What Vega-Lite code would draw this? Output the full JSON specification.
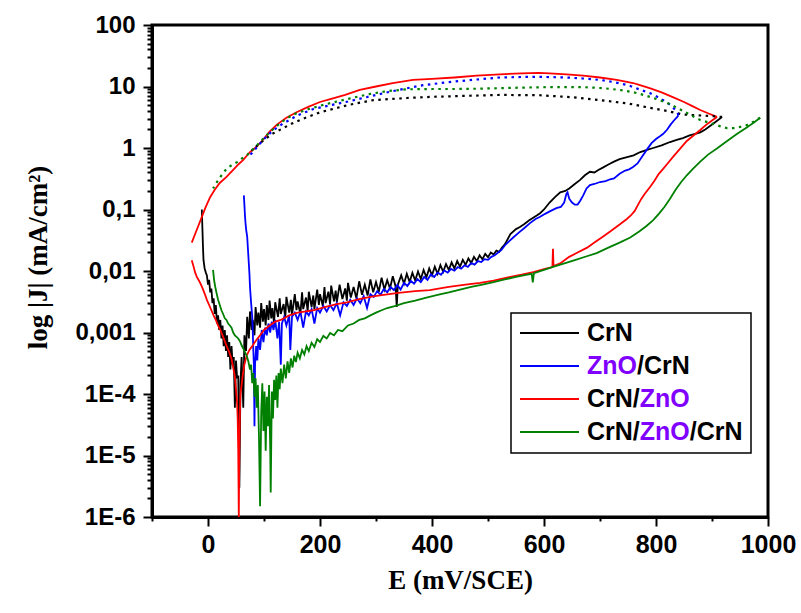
{
  "$schema": "https://vega.github.io/schema/vega-lite/v6.json",
  "width": 616,
  "height": 492,
  "autosize": {"type": "none"},
  "padding": {"left": 152, "top": 25, "right": 33, "bottom": 96},
  "background": "white",
  "config": {
    "view": {"stroke": "black", "strokeWidth": 3},
    "axis": {"grid": false, "domainColor": "black", "domainWidth": 3, "tickColor": "black", "tickWidth": 2, "labelColor": "black", "titleColor": "black"}
  },
  "data": {"values": [
{"series":"CrN","scan":"fwd","E":-11,"J":0.1},{"series":"CrN","scan":"fwd","E":-10,"J":0.05},{"series":"CrN","scan":"fwd","E":-9,"J":0.025},{"series":"CrN","scan":"fwd","E":-8,"J":0.015},{"series":"CrN","scan":"fwd","E":-6,"J":0.011},{"series":"CrN","scan":"fwd","E":-4,"J":0.0095},{"series":"CrN","scan":"fwd","E":-2,"J":0.0085},{"series":"CrN","scan":"fwd","E":0,"J":0.006},{"series":"CrN","scan":"fwd","E":2,"J":0.0072},{"series":"CrN","scan":"fwd","E":4,"J":0.0045},{"series":"CrN","scan":"fwd","E":6,"J":0.0052},{"series":"CrN","scan":"fwd","E":8,"J":0.003},{"series":"CrN","scan":"fwd","E":10,"J":0.0036},{"series":"CrN","scan":"fwd","E":12,"J":0.002},{"series":"CrN","scan":"fwd","E":14,"J":0.0028},{"series":"CrN","scan":"fwd","E":16,"J":0.0014},{"series":"CrN","scan":"fwd","E":18,"J":0.0019},{"series":"CrN","scan":"fwd","E":20,"J":0.0011},{"series":"CrN","scan":"fwd","E":22,"J":0.0016},{"series":"CrN","scan":"fwd","E":24,"J":0.0008},{"series":"CrN","scan":"fwd","E":26,"J":0.0013},{"series":"CrN","scan":"fwd","E":28,"J":0.0006},{"series":"CrN","scan":"fwd","E":30,"J":0.0011},{"series":"CrN","scan":"fwd","E":32,"J":0.0005},{"series":"CrN","scan":"fwd","E":34,"J":0.0009},{"series":"CrN","scan":"fwd","E":36,"J":0.0004},{"series":"CrN","scan":"fwd","E":38,"J":0.0007},{"series":"CrN","scan":"fwd","E":40,"J":0.00025},{"series":"CrN","scan":"fwd","E":42,"J":0.0006},{"series":"CrN","scan":"fwd","E":44,"J":0.0003},{"series":"CrN","scan":"fwd","E":46,"J":0.0004},{"series":"CrN","scan":"fwd","E":48,"J":0.00006},{"series":"CrN","scan":"fwd","E":50,"J":0.00035},{"series":"CrN","scan":"fwd","E":52,"J":0.00018},{"series":"CrN","scan":"fwd","E":54,"J":0.0002},{"series":"CrN","scan":"fwd","E":56,"J":0.000003},{"series":"CrN","scan":"fwd","E":58,"J":0.00015},{"series":"CrN","scan":"fwd","E":60,"J":0.0004},{"series":"CrN","scan":"fwd","E":63,"J":0.00006},{"series":"CrN","scan":"fwd","E":65,"J":0.0009},{"series":"CrN","scan":"fwd","E":68,"J":0.0005},{"series":"CrN","scan":"fwd","E":70,"J":0.0018},{"series":"CrN","scan":"fwd","E":73,"J":0.0008},{"series":"CrN","scan":"fwd","E":75,"J":0.0022},{"series":"CrN","scan":"fwd","E":78,"J":0.0011},{"series":"CrN","scan":"fwd","E":80,"J":0.0016},{"series":"CrN","scan":"fwd","E":83,"J":0.0009},{"series":"CrN","scan":"fwd","E":85,"J":0.0026},{"series":"CrN","scan":"fwd","E":88,"J":0.0013},{"series":"CrN","scan":"fwd","E":90,"J":0.0021},{"series":"CrN","scan":"fwd","E":93,"J":0.0012},{"series":"CrN","scan":"fwd","E":95,"J":0.003},{"series":"CrN","scan":"fwd","E":98,"J":0.0015},{"series":"CrN","scan":"fwd","E":100,"J":0.0024},{"series":"CrN","scan":"fwd","E":103,"J":0.0013},{"series":"CrN","scan":"fwd","E":105,"J":0.0028},{"series":"CrN","scan":"fwd","E":108,"J":0.0016},{"series":"CrN","scan":"fwd","E":110,"J":0.0033},{"series":"CrN","scan":"fwd","E":113,"J":0.0017},{"series":"CrN","scan":"fwd","E":115,"J":0.0025},{"series":"CrN","scan":"fwd","E":118,"J":0.0014},{"series":"CrN","scan":"fwd","E":120,"J":0.0031},{"series":"CrN","scan":"fwd","E":125,"J":0.0018},{"series":"CrN","scan":"fwd","E":128,"J":0.0036},{"series":"CrN","scan":"fwd","E":130,"J":0.002},{"series":"CrN","scan":"fwd","E":135,"J":0.0029},{"series":"CrN","scan":"fwd","E":138,"J":0.0017},{"series":"CrN","scan":"fwd","E":140,"J":0.0038},{"series":"CrN","scan":"fwd","E":145,"J":0.0021},{"series":"CrN","scan":"fwd","E":148,"J":0.0034},{"series":"CrN","scan":"fwd","E":150,"J":0.0019},{"series":"CrN","scan":"fwd","E":155,"J":0.0042},{"series":"CrN","scan":"fwd","E":158,"J":0.0023},{"series":"CrN","scan":"fwd","E":160,"J":0.0032},{"series":"CrN","scan":"fwd","E":165,"J":0.002},{"series":"CrN","scan":"fwd","E":168,"J":0.0045},{"series":"CrN","scan":"fwd","E":170,"J":0.0024},{"series":"CrN","scan":"fwd","E":175,"J":0.0037},{"series":"CrN","scan":"fwd","E":178,"J":0.0022},{"series":"CrN","scan":"fwd","E":180,"J":0.0046},{"series":"CrN","scan":"fwd","E":185,"J":0.0026},{"series":"CrN","scan":"fwd","E":188,"J":0.004},{"series":"CrN","scan":"fwd","E":190,"J":0.0024},{"series":"CrN","scan":"fwd","E":195,"J":0.005},{"series":"CrN","scan":"fwd","E":198,"J":0.0028},{"series":"CrN","scan":"fwd","E":200,"J":0.0042},{"series":"CrN","scan":"fwd","E":205,"J":0.0027},{"series":"CrN","scan":"fwd","E":208,"J":0.0055},{"series":"CrN","scan":"fwd","E":210,"J":0.003},{"series":"CrN","scan":"fwd","E":215,"J":0.0046},{"series":"CrN","scan":"fwd","E":218,"J":0.0029},{"series":"CrN","scan":"fwd","E":220,"J":0.0058},{"series":"CrN","scan":"fwd","E":225,"J":0.0032},{"series":"CrN","scan":"fwd","E":228,"J":0.0048},{"series":"CrN","scan":"fwd","E":230,"J":0.0031},{"series":"CrN","scan":"fwd","E":235,"J":0.006},{"series":"CrN","scan":"fwd","E":240,"J":0.0035},{"series":"CrN","scan":"fwd","E":245,"J":0.0052},{"series":"CrN","scan":"fwd","E":248,"J":0.0033},{"series":"CrN","scan":"fwd","E":250,"J":0.0064},{"series":"CrN","scan":"fwd","E":255,"J":0.0037},{"series":"CrN","scan":"fwd","E":260,"J":0.0055},{"series":"CrN","scan":"fwd","E":265,"J":0.0036},{"series":"CrN","scan":"fwd","E":270,"J":0.0068},{"series":"CrN","scan":"fwd","E":275,"J":0.0041},{"series":"CrN","scan":"fwd","E":280,"J":0.006},{"series":"CrN","scan":"fwd","E":285,"J":0.004},{"series":"CrN","scan":"fwd","E":290,"J":0.0073},{"series":"CrN","scan":"fwd","E":295,"J":0.0045},{"series":"CrN","scan":"fwd","E":300,"J":0.0066},{"series":"CrN","scan":"fwd","E":305,"J":0.0046},{"series":"CrN","scan":"fwd","E":310,"J":0.0078},{"series":"CrN","scan":"fwd","E":315,"J":0.005},{"series":"CrN","scan":"fwd","E":320,"J":0.0071},{"series":"CrN","scan":"fwd","E":325,"J":0.0052},{"series":"CrN","scan":"fwd","E":330,"J":0.0082},{"series":"CrN","scan":"fwd","E":335,"J":0.0056},{"series":"CrN","scan":"fwd","E":337,"J":0.0026},{"series":"CrN","scan":"fwd","E":339,"J":0.006},{"series":"CrN","scan":"fwd","E":345,"J":0.0085},{"series":"CrN","scan":"fwd","E":350,"J":0.0062},{"series":"CrN","scan":"fwd","E":355,"J":0.009},{"series":"CrN","scan":"fwd","E":360,"J":0.0066},{"series":"CrN","scan":"fwd","E":365,"J":0.0093},{"series":"CrN","scan":"fwd","E":370,"J":0.007},{"series":"CrN","scan":"fwd","E":375,"J":0.0098},{"series":"CrN","scan":"fwd","E":380,"J":0.0074},{"series":"CrN","scan":"fwd","E":385,"J":0.0104},{"series":"CrN","scan":"fwd","E":390,"J":0.0079},{"series":"CrN","scan":"fwd","E":395,"J":0.011},{"series":"CrN","scan":"fwd","E":400,"J":0.0085},{"series":"CrN","scan":"fwd","E":405,"J":0.0118},{"series":"CrN","scan":"fwd","E":410,"J":0.009},{"series":"CrN","scan":"fwd","E":415,"J":0.0125},{"series":"CrN","scan":"fwd","E":420,"J":0.0097},{"series":"CrN","scan":"fwd","E":425,"J":0.013},{"series":"CrN","scan":"fwd","E":430,"J":0.0104},{"series":"CrN","scan":"fwd","E":435,"J":0.0138},{"series":"CrN","scan":"fwd","E":440,"J":0.011},{"series":"CrN","scan":"fwd","E":445,"J":0.0145},{"series":"CrN","scan":"fwd","E":450,"J":0.0118},{"series":"CrN","scan":"fwd","E":455,"J":0.0152},{"series":"CrN","scan":"fwd","E":460,"J":0.0126},{"series":"CrN","scan":"fwd","E":465,"J":0.016},{"series":"CrN","scan":"fwd","E":470,"J":0.0135},{"series":"CrN","scan":"fwd","E":475,"J":0.017},{"series":"CrN","scan":"fwd","E":480,"J":0.0145},{"series":"CrN","scan":"fwd","E":485,"J":0.018},{"series":"CrN","scan":"fwd","E":490,"J":0.0155},{"series":"CrN","scan":"fwd","E":495,"J":0.019},{"series":"CrN","scan":"fwd","E":500,"J":0.0168},{"series":"CrN","scan":"fwd","E":505,"J":0.02},{"series":"CrN","scan":"fwd","E":510,"J":0.0185},{"series":"CrN","scan":"fwd","E":515,"J":0.0215},{"series":"CrN","scan":"fwd","E":520,"J":0.0205},{"series":"CrN","scan":"fwd","E":525,"J":0.024},{"series":"CrN","scan":"fwd","E":530,"J":0.027},{"series":"CrN","scan":"fwd","E":540,"J":0.04},{"series":"CrN","scan":"fwd","E":550,"J":0.048},{"series":"CrN","scan":"fwd","E":557,"J":0.052},{"series":"CrN","scan":"fwd","E":565,"J":0.058},{"series":"CrN","scan":"fwd","E":573,"J":0.066},{"series":"CrN","scan":"fwd","E":580,"J":0.073},{"series":"CrN","scan":"fwd","E":587,"J":0.08},{"series":"CrN","scan":"fwd","E":593,"J":0.087},{"series":"CrN","scan":"fwd","E":600,"J":0.1},{"series":"CrN","scan":"fwd","E":610,"J":0.13},{"series":"CrN","scan":"fwd","E":620,"J":0.16},{"series":"CrN","scan":"fwd","E":629,"J":0.19},{"series":"CrN","scan":"fwd","E":638,"J":0.2},{"series":"CrN","scan":"fwd","E":645,"J":0.22},{"series":"CrN","scan":"fwd","E":655,"J":0.26},{"series":"CrN","scan":"fwd","E":664,"J":0.3},{"series":"CrN","scan":"fwd","E":673,"J":0.36},{"series":"CrN","scan":"fwd","E":682,"J":0.41},{"series":"CrN","scan":"fwd","E":690,"J":0.4},{"series":"CrN","scan":"fwd","E":697,"J":0.44},{"series":"CrN","scan":"fwd","E":705,"J":0.48},{"series":"CrN","scan":"fwd","E":715,"J":0.54},{"series":"CrN","scan":"fwd","E":725,"J":0.6},{"series":"CrN","scan":"fwd","E":735,"J":0.66},{"series":"CrN","scan":"fwd","E":745,"J":0.7},{"series":"CrN","scan":"fwd","E":760,"J":0.76},{"series":"CrN","scan":"fwd","E":772,"J":0.86},{"series":"CrN","scan":"fwd","E":784,"J":0.93},{"series":"CrN","scan":"fwd","E":795,"J":1.0},{"series":"CrN","scan":"fwd","E":810,"J":1.1},{"series":"CrN","scan":"fwd","E":825,"J":1.25},{"series":"CrN","scan":"fwd","E":837,"J":1.35},{"series":"CrN","scan":"fwd","E":848,"J":1.45},{"series":"CrN","scan":"fwd","E":860,"J":1.6},{"series":"CrN","scan":"fwd","E":870,"J":1.7},{"series":"CrN","scan":"fwd","E":879,"J":1.8},{"series":"CrN","scan":"fwd","E":888,"J":2.0},{"series":"CrN","scan":"fwd","E":897,"J":2.3},{"series":"CrN","scan":"fwd","E":905,"J":2.6},{"series":"CrN","scan":"fwd","E":912,"J":2.9},{"series":"CrN","scan":"fwd","E":918,"J":3.2},
{"series":"CrN","scan":"rev","E":918,"J":3.2},{"series":"CrN","scan":"rev","E":900,"J":3.3},{"series":"CrN","scan":"rev","E":875,"J":3.4},{"series":"CrN","scan":"rev","E":848,"J":3.5},{"series":"CrN","scan":"rev","E":820,"J":4.0},{"series":"CrN","scan":"rev","E":789,"J":4.5},{"series":"CrN","scan":"rev","E":750,"J":5.3},{"series":"CrN","scan":"rev","E":700,"J":6.0},{"series":"CrN","scan":"rev","E":650,"J":6.7},{"series":"CrN","scan":"rev","E":593,"J":7.2},{"series":"CrN","scan":"rev","E":521,"J":7.3},{"series":"CrN","scan":"rev","E":450,"J":7.0},{"series":"CrN","scan":"rev","E":400,"J":6.8},{"series":"CrN","scan":"rev","E":355,"J":6.5},{"series":"CrN","scan":"rev","E":295,"J":6.0},{"series":"CrN","scan":"rev","E":250,"J":5.0},{"series":"CrN","scan":"rev","E":200,"J":3.8},{"series":"CrN","scan":"rev","E":170,"J":3.0},{"series":"CrN","scan":"rev","E":150,"J":2.5},{"series":"CrN","scan":"rev","E":134,"J":2.1},{"series":"CrN","scan":"rev","E":115,"J":1.7},{"series":"CrN","scan":"rev","E":100,"J":1.35},{"series":"CrN","scan":"rev","E":88,"J":1.1},{"series":"CrN","scan":"rev","E":78,"J":0.9},
{"series":"ZnO/CrN","scan":"fwd","E":64,"J":0.17},{"series":"ZnO/CrN","scan":"fwd","E":65,"J":0.12},{"series":"ZnO/CrN","scan":"fwd","E":66,"J":0.08},{"series":"ZnO/CrN","scan":"fwd","E":67,"J":0.06},{"series":"ZnO/CrN","scan":"fwd","E":68,"J":0.048},{"series":"ZnO/CrN","scan":"fwd","E":70,"J":0.036},{"series":"ZnO/CrN","scan":"fwd","E":72,"J":0.018},{"series":"ZnO/CrN","scan":"fwd","E":74,"J":0.009},{"series":"ZnO/CrN","scan":"fwd","E":75,"J":0.0055},{"series":"ZnO/CrN","scan":"fwd","E":77,"J":0.003},{"series":"ZnO/CrN","scan":"fwd","E":79,"J":0.0018},{"series":"ZnO/CrN","scan":"fwd","E":80,"J":0.001},{"series":"ZnO/CrN","scan":"fwd","E":81,"J":0.0005},{"series":"ZnO/CrN","scan":"fwd","E":82,"J":0.00028},{"series":"ZnO/CrN","scan":"fwd","E":83,"J":0.00003},{"series":"ZnO/CrN","scan":"fwd","E":84,"J":0.0003},{"series":"ZnO/CrN","scan":"fwd","E":86,"J":0.0006},{"series":"ZnO/CrN","scan":"fwd","E":88,"J":0.00035},{"series":"ZnO/CrN","scan":"fwd","E":90,"J":0.0008},{"series":"ZnO/CrN","scan":"fwd","E":93,"J":0.00052},{"series":"ZnO/CrN","scan":"fwd","E":96,"J":0.0011},{"series":"ZnO/CrN","scan":"fwd","E":99,"J":0.0007},{"series":"ZnO/CrN","scan":"fwd","E":102,"J":0.0012},{"series":"ZnO/CrN","scan":"fwd","E":105,"J":0.0009},{"series":"ZnO/CrN","scan":"fwd","E":108,"J":0.0014},{"series":"ZnO/CrN","scan":"fwd","E":111,"J":0.001},{"series":"ZnO/CrN","scan":"fwd","E":114,"J":0.0015},{"series":"ZnO/CrN","scan":"fwd","E":117,"J":0.0011},{"series":"ZnO/CrN","scan":"fwd","E":120,"J":0.0016},{"series":"ZnO/CrN","scan":"fwd","E":124,"J":0.0008},{"series":"ZnO/CrN","scan":"fwd","E":127,"J":0.0015},{"series":"ZnO/CrN","scan":"fwd","E":130,"J":0.0003},{"series":"ZnO/CrN","scan":"fwd","E":132,"J":0.0014},{"series":"ZnO/CrN","scan":"fwd","E":136,"J":0.0018},{"series":"ZnO/CrN","scan":"fwd","E":140,"J":0.0013},{"series":"ZnO/CrN","scan":"fwd","E":145,"J":0.0019},{"series":"ZnO/CrN","scan":"fwd","E":147,"J":0.00052},{"series":"ZnO/CrN","scan":"fwd","E":150,"J":0.0018},{"series":"ZnO/CrN","scan":"fwd","E":155,"J":0.0021},{"series":"ZnO/CrN","scan":"fwd","E":160,"J":0.0016},{"series":"ZnO/CrN","scan":"fwd","E":165,"J":0.0022},{"series":"ZnO/CrN","scan":"fwd","E":170,"J":0.0012},{"series":"ZnO/CrN","scan":"fwd","E":175,"J":0.0022},{"series":"ZnO/CrN","scan":"fwd","E":180,"J":0.0019},{"series":"ZnO/CrN","scan":"fwd","E":185,"J":0.0024},{"series":"ZnO/CrN","scan":"fwd","E":190,"J":0.0014},{"series":"ZnO/CrN","scan":"fwd","E":195,"J":0.0025},{"series":"ZnO/CrN","scan":"fwd","E":200,"J":0.0021},{"series":"ZnO/CrN","scan":"fwd","E":206,"J":0.0027},{"series":"ZnO/CrN","scan":"fwd","E":212,"J":0.0022},{"series":"ZnO/CrN","scan":"fwd","E":218,"J":0.0028},{"series":"ZnO/CrN","scan":"fwd","E":224,"J":0.0023},{"series":"ZnO/CrN","scan":"fwd","E":230,"J":0.003},{"series":"ZnO/CrN","scan":"fwd","E":236,"J":0.0019},{"series":"ZnO/CrN","scan":"fwd","E":242,"J":0.0031},{"series":"ZnO/CrN","scan":"fwd","E":248,"J":0.0027},{"series":"ZnO/CrN","scan":"fwd","E":254,"J":0.0034},{"series":"ZnO/CrN","scan":"fwd","E":260,"J":0.0028},{"series":"ZnO/CrN","scan":"fwd","E":266,"J":0.0036},{"series":"ZnO/CrN","scan":"fwd","E":272,"J":0.003},{"series":"ZnO/CrN","scan":"fwd","E":278,"J":0.0039},{"series":"ZnO/CrN","scan":"fwd","E":284,"J":0.0025},{"series":"ZnO/CrN","scan":"fwd","E":290,"J":0.0042},{"series":"ZnO/CrN","scan":"fwd","E":296,"J":0.0038},{"series":"ZnO/CrN","scan":"fwd","E":302,"J":0.0047},{"series":"ZnO/CrN","scan":"fwd","E":308,"J":0.0041},{"series":"ZnO/CrN","scan":"fwd","E":314,"J":0.0051},{"series":"ZnO/CrN","scan":"fwd","E":320,"J":0.0045},{"series":"ZnO/CrN","scan":"fwd","E":326,"J":0.0055},{"series":"ZnO/CrN","scan":"fwd","E":332,"J":0.0049},{"series":"ZnO/CrN","scan":"fwd","E":338,"J":0.0059},{"series":"ZnO/CrN","scan":"fwd","E":344,"J":0.005},{"series":"ZnO/CrN","scan":"fwd","E":350,"J":0.0064},{"series":"ZnO/CrN","scan":"fwd","E":356,"J":0.0057},{"series":"ZnO/CrN","scan":"fwd","E":362,"J":0.0069},{"series":"ZnO/CrN","scan":"fwd","E":368,"J":0.0062},{"series":"ZnO/CrN","scan":"fwd","E":374,"J":0.0074},{"series":"ZnO/CrN","scan":"fwd","E":380,"J":0.0066},{"series":"ZnO/CrN","scan":"fwd","E":386,"J":0.008},{"series":"ZnO/CrN","scan":"fwd","E":392,"J":0.0072},{"series":"ZnO/CrN","scan":"fwd","E":398,"J":0.0088},{"series":"ZnO/CrN","scan":"fwd","E":404,"J":0.008},{"series":"ZnO/CrN","scan":"fwd","E":410,"J":0.0095},{"series":"ZnO/CrN","scan":"fwd","E":416,"J":0.0087},{"series":"ZnO/CrN","scan":"fwd","E":422,"J":0.0102},{"series":"ZnO/CrN","scan":"fwd","E":428,"J":0.0094},{"series":"ZnO/CrN","scan":"fwd","E":434,"J":0.0108},{"series":"ZnO/CrN","scan":"fwd","E":440,"J":0.0101},{"series":"ZnO/CrN","scan":"fwd","E":446,"J":0.0116},{"series":"ZnO/CrN","scan":"fwd","E":452,"J":0.0109},{"series":"ZnO/CrN","scan":"fwd","E":458,"J":0.0124},{"series":"ZnO/CrN","scan":"fwd","E":464,"J":0.0117},{"series":"ZnO/CrN","scan":"fwd","E":470,"J":0.0134},{"series":"ZnO/CrN","scan":"fwd","E":476,"J":0.0127},{"series":"ZnO/CrN","scan":"fwd","E":482,"J":0.0145},{"series":"ZnO/CrN","scan":"fwd","E":488,"J":0.014},{"series":"ZnO/CrN","scan":"fwd","E":494,"J":0.0156},{"series":"ZnO/CrN","scan":"fwd","E":500,"J":0.0152},{"series":"ZnO/CrN","scan":"fwd","E":506,"J":0.017},{"series":"ZnO/CrN","scan":"fwd","E":512,"J":0.018},{"series":"ZnO/CrN","scan":"fwd","E":518,"J":0.02},{"series":"ZnO/CrN","scan":"fwd","E":524,"J":0.022},{"series":"ZnO/CrN","scan":"fwd","E":530,"J":0.026},{"series":"ZnO/CrN","scan":"fwd","E":537,"J":0.03},{"series":"ZnO/CrN","scan":"fwd","E":545,"J":0.035},{"series":"ZnO/CrN","scan":"fwd","E":555,"J":0.042},{"series":"ZnO/CrN","scan":"fwd","E":565,"J":0.05},{"series":"ZnO/CrN","scan":"fwd","E":575,"J":0.06},{"series":"ZnO/CrN","scan":"fwd","E":585,"J":0.07},{"series":"ZnO/CrN","scan":"fwd","E":593,"J":0.076},{"series":"ZnO/CrN","scan":"fwd","E":602,"J":0.085},{"series":"ZnO/CrN","scan":"fwd","E":612,"J":0.095},{"series":"ZnO/CrN","scan":"fwd","E":622,"J":0.105},{"series":"ZnO/CrN","scan":"fwd","E":630,"J":0.11},{"series":"ZnO/CrN","scan":"fwd","E":636,"J":0.13},{"series":"ZnO/CrN","scan":"fwd","E":640,"J":0.18},{"series":"ZnO/CrN","scan":"fwd","E":642,"J":0.19},{"series":"ZnO/CrN","scan":"fwd","E":645,"J":0.15},{"series":"ZnO/CrN","scan":"fwd","E":650,"J":0.13},{"series":"ZnO/CrN","scan":"fwd","E":655,"J":0.12},{"series":"ZnO/CrN","scan":"fwd","E":660,"J":0.12},{"series":"ZnO/CrN","scan":"fwd","E":665,"J":0.14},{"series":"ZnO/CrN","scan":"fwd","E":670,"J":0.17},{"series":"ZnO/CrN","scan":"fwd","E":676,"J":0.22},{"series":"ZnO/CrN","scan":"fwd","E":682,"J":0.25},{"series":"ZnO/CrN","scan":"fwd","E":690,"J":0.26},{"series":"ZnO/CrN","scan":"fwd","E":700,"J":0.28},{"series":"ZnO/CrN","scan":"fwd","E":710,"J":0.29},{"series":"ZnO/CrN","scan":"fwd","E":718,"J":0.31},{"series":"ZnO/CrN","scan":"fwd","E":725,"J":0.32},{"series":"ZnO/CrN","scan":"fwd","E":735,"J":0.38},{"series":"ZnO/CrN","scan":"fwd","E":745,"J":0.43},{"series":"ZnO/CrN","scan":"fwd","E":752,"J":0.45},{"series":"ZnO/CrN","scan":"fwd","E":759,"J":0.49},{"series":"ZnO/CrN","scan":"fwd","E":767,"J":0.56},{"series":"ZnO/CrN","scan":"fwd","E":775,"J":0.72},{"series":"ZnO/CrN","scan":"fwd","E":784,"J":0.95},{"series":"ZnO/CrN","scan":"fwd","E":792,"J":1.2},{"series":"ZnO/CrN","scan":"fwd","E":800,"J":1.4},{"series":"ZnO/CrN","scan":"fwd","E":807,"J":1.55},{"series":"ZnO/CrN","scan":"fwd","E":813,"J":1.7},{"series":"ZnO/CrN","scan":"fwd","E":820,"J":2.0},{"series":"ZnO/CrN","scan":"fwd","E":826,"J":2.4},{"series":"ZnO/CrN","scan":"fwd","E":832,"J":2.8},{"series":"ZnO/CrN","scan":"fwd","E":838,"J":3.2},{"series":"ZnO/CrN","scan":"fwd","E":840,"J":3.4},
{"series":"ZnO/CrN","scan":"rev","E":840,"J":3.4},{"series":"ZnO/CrN","scan":"rev","E":838,"J":3.85},{"series":"ZnO/CrN","scan":"rev","E":830,"J":4.6},{"series":"ZnO/CrN","scan":"rev","E":820,"J":5.5},{"series":"ZnO/CrN","scan":"rev","E":805,"J":6.6},{"series":"ZnO/CrN","scan":"rev","E":789,"J":7.8},{"series":"ZnO/CrN","scan":"rev","E":770,"J":9.0},{"series":"ZnO/CrN","scan":"rev","E":750,"J":10.5},{"series":"ZnO/CrN","scan":"rev","E":725,"J":11.8},{"series":"ZnO/CrN","scan":"rev","E":700,"J":12.8},{"series":"ZnO/CrN","scan":"rev","E":670,"J":13.5},{"series":"ZnO/CrN","scan":"rev","E":640,"J":14.0},{"series":"ZnO/CrN","scan":"rev","E":600,"J":14.3},{"series":"ZnO/CrN","scan":"rev","E":563,"J":14.3},{"series":"ZnO/CrN","scan":"rev","E":521,"J":14.0},{"series":"ZnO/CrN","scan":"rev","E":480,"J":13.0},{"series":"ZnO/CrN","scan":"rev","E":430,"J":11.8},{"series":"ZnO/CrN","scan":"rev","E":384,"J":10.5},{"series":"ZnO/CrN","scan":"rev","E":340,"J":8.8},{"series":"ZnO/CrN","scan":"rev","E":300,"J":7.3},{"series":"ZnO/CrN","scan":"rev","E":283,"J":6.7},{"series":"ZnO/CrN","scan":"rev","E":250,"J":5.7},{"series":"ZnO/CrN","scan":"rev","E":220,"J":5.0},{"series":"ZnO/CrN","scan":"rev","E":188,"J":4.3},{"series":"ZnO/CrN","scan":"rev","E":160,"J":3.4},{"series":"ZnO/CrN","scan":"rev","E":134,"J":2.5},{"series":"ZnO/CrN","scan":"rev","E":115,"J":1.9},{"series":"ZnO/CrN","scan":"rev","E":100,"J":1.4},{"series":"ZnO/CrN","scan":"rev","E":88,"J":1.05},{"series":"ZnO/CrN","scan":"rev","E":80,"J":0.85},{"series":"ZnO/CrN","scan":"rev","E":75,"J":0.77},
{"series":"CrN/ZnO","scan":"fwd","E":-29,"J":0.015},{"series":"CrN/ZnO","scan":"fwd","E":-26,"J":0.012},{"series":"CrN/ZnO","scan":"fwd","E":-23,"J":0.0095},{"series":"CrN/ZnO","scan":"fwd","E":-20,"J":0.008},{"series":"CrN/ZnO","scan":"fwd","E":-17,"J":0.0072},{"series":"CrN/ZnO","scan":"fwd","E":-14,"J":0.0064},{"series":"CrN/ZnO","scan":"fwd","E":-10,"J":0.0053},{"series":"CrN/ZnO","scan":"fwd","E":-6,"J":0.0043},{"series":"CrN/ZnO","scan":"fwd","E":-2,"J":0.0034},{"series":"CrN/ZnO","scan":"fwd","E":2,"J":0.0028},{"series":"CrN/ZnO","scan":"fwd","E":6,"J":0.0023},{"series":"CrN/ZnO","scan":"fwd","E":10,"J":0.0019},{"series":"CrN/ZnO","scan":"fwd","E":14,"J":0.0016},{"series":"CrN/ZnO","scan":"fwd","E":18,"J":0.0013},{"series":"CrN/ZnO","scan":"fwd","E":22,"J":0.0011},{"series":"CrN/ZnO","scan":"fwd","E":26,"J":0.0009},{"series":"CrN/ZnO","scan":"fwd","E":30,"J":0.00072},{"series":"CrN/ZnO","scan":"fwd","E":34,"J":0.00058},{"series":"CrN/ZnO","scan":"fwd","E":38,"J":0.00048},{"series":"CrN/ZnO","scan":"fwd","E":42,"J":0.00037},{"series":"CrN/ZnO","scan":"fwd","E":45,"J":0.00027},{"series":"CrN/ZnO","scan":"fwd","E":48,"J":0.00019},{"series":"CrN/ZnO","scan":"fwd","E":50,"J":0.00012},{"series":"CrN/ZnO","scan":"fwd","E":52,"J":0.00007},{"series":"CrN/ZnO","scan":"fwd","E":53,"J":0.00004},{"series":"CrN/ZnO","scan":"fwd","E":54,"J":0.000012},{"series":"CrN/ZnO","scan":"fwd","E":55,"J":0.000001},{"series":"CrN/ZnO","scan":"fwd","E":56,"J":0.000012},{"series":"CrN/ZnO","scan":"fwd","E":57,"J":0.00005},{"series":"CrN/ZnO","scan":"fwd","E":58,"J":0.0001},{"series":"CrN/ZnO","scan":"fwd","E":60,"J":0.00014},{"series":"CrN/ZnO","scan":"fwd","E":62,"J":0.0002},{"series":"CrN/ZnO","scan":"fwd","E":65,"J":0.0003},{"series":"CrN/ZnO","scan":"fwd","E":69,"J":0.00042},{"series":"CrN/ZnO","scan":"fwd","E":74,"J":0.00052},{"series":"CrN/ZnO","scan":"fwd","E":79,"J":0.0006},{"series":"CrN/ZnO","scan":"fwd","E":86,"J":0.00075},{"series":"CrN/ZnO","scan":"fwd","E":93,"J":0.0009},{"series":"CrN/ZnO","scan":"fwd","E":100,"J":0.0011},{"series":"CrN/ZnO","scan":"fwd","E":110,"J":0.0013},{"series":"CrN/ZnO","scan":"fwd","E":120,"J":0.0015},{"series":"CrN/ZnO","scan":"fwd","E":130,"J":0.0016},{"series":"CrN/ZnO","scan":"fwd","E":145,"J":0.0019},{"series":"CrN/ZnO","scan":"fwd","E":160,"J":0.0021},{"series":"CrN/ZnO","scan":"fwd","E":175,"J":0.0022},{"series":"CrN/ZnO","scan":"fwd","E":188,"J":0.0023},{"series":"CrN/ZnO","scan":"fwd","E":210,"J":0.0026},{"series":"CrN/ZnO","scan":"fwd","E":230,"J":0.0029},{"series":"CrN/ZnO","scan":"fwd","E":248,"J":0.0031},{"series":"CrN/ZnO","scan":"fwd","E":270,"J":0.0035},{"series":"CrN/ZnO","scan":"fwd","E":290,"J":0.0038},{"series":"CrN/ZnO","scan":"fwd","E":307,"J":0.004},{"series":"CrN/ZnO","scan":"fwd","E":340,"J":0.0044},{"series":"CrN/ZnO","scan":"fwd","E":370,"J":0.0047},{"series":"CrN/ZnO","scan":"fwd","E":396,"J":0.0049},{"series":"CrN/ZnO","scan":"fwd","E":430,"J":0.0055},{"series":"CrN/ZnO","scan":"fwd","E":460,"J":0.006},{"series":"CrN/ZnO","scan":"fwd","E":486,"J":0.0064},{"series":"CrN/ZnO","scan":"fwd","E":510,"J":0.007},{"series":"CrN/ZnO","scan":"fwd","E":540,"J":0.008},{"series":"CrN/ZnO","scan":"fwd","E":560,"J":0.0087},{"series":"CrN/ZnO","scan":"fwd","E":581,"J":0.0096},{"series":"CrN/ZnO","scan":"fwd","E":600,"J":0.0107},{"series":"CrN/ZnO","scan":"fwd","E":615,"J":0.0116},{"series":"CrN/ZnO","scan":"fwd","E":616,"J":0.023},{"series":"CrN/ZnO","scan":"fwd","E":617,"J":0.012},{"series":"CrN/ZnO","scan":"fwd","E":630,"J":0.0135},{"series":"CrN/ZnO","scan":"fwd","E":645,"J":0.017},{"series":"CrN/ZnO","scan":"fwd","E":660,"J":0.02},{"series":"CrN/ZnO","scan":"fwd","E":677,"J":0.024},{"series":"CrN/ZnO","scan":"fwd","E":690,"J":0.029},{"series":"CrN/ZnO","scan":"fwd","E":705,"J":0.036},{"series":"CrN/ZnO","scan":"fwd","E":720,"J":0.045},{"series":"CrN/ZnO","scan":"fwd","E":735,"J":0.057},{"series":"CrN/ZnO","scan":"fwd","E":748,"J":0.07},{"series":"CrN/ZnO","scan":"fwd","E":755,"J":0.08},{"series":"CrN/ZnO","scan":"fwd","E":762,"J":0.095},{"series":"CrN/ZnO","scan":"fwd","E":768,"J":0.12},{"series":"CrN/ZnO","scan":"fwd","E":774,"J":0.15},{"series":"CrN/ZnO","scan":"fwd","E":780,"J":0.18},{"series":"CrN/ZnO","scan":"fwd","E":789,"J":0.23},{"series":"CrN/ZnO","scan":"fwd","E":797,"J":0.29},{"series":"CrN/ZnO","scan":"fwd","E":805,"J":0.38},{"series":"CrN/ZnO","scan":"fwd","E":812,"J":0.45},{"series":"CrN/ZnO","scan":"fwd","E":820,"J":0.55},{"series":"CrN/ZnO","scan":"fwd","E":830,"J":0.71},{"series":"CrN/ZnO","scan":"fwd","E":842,"J":0.95},{"series":"CrN/ZnO","scan":"fwd","E":855,"J":1.3},{"series":"CrN/ZnO","scan":"fwd","E":867,"J":1.6},{"series":"CrN/ZnO","scan":"fwd","E":879,"J":1.96},{"series":"CrN/ZnO","scan":"fwd","E":890,"J":2.4},{"series":"CrN/ZnO","scan":"fwd","E":900,"J":2.8},{"series":"CrN/ZnO","scan":"fwd","E":909,"J":3.2},
{"series":"CrN/ZnO","scan":"rev","E":909,"J":3.2},{"series":"CrN/ZnO","scan":"rev","E":895,"J":3.6},{"series":"CrN/ZnO","scan":"rev","E":879,"J":4.15},{"series":"CrN/ZnO","scan":"rev","E":865,"J":4.8},{"series":"CrN/ZnO","scan":"rev","E":850,"J":5.6},{"series":"CrN/ZnO","scan":"rev","E":830,"J":6.7},{"series":"CrN/ZnO","scan":"rev","E":810,"J":8.0},{"series":"CrN/ZnO","scan":"rev","E":790,"J":9.3},{"series":"CrN/ZnO","scan":"rev","E":770,"J":10.6},{"series":"CrN/ZnO","scan":"rev","E":759,"J":11.4},{"series":"CrN/ZnO","scan":"rev","E":730,"J":12.8},{"series":"CrN/ZnO","scan":"rev","E":700,"J":14.0},{"series":"CrN/ZnO","scan":"rev","E":670,"J":15.0},{"series":"CrN/ZnO","scan":"rev","E":640,"J":15.8},{"series":"CrN/ZnO","scan":"rev","E":610,"J":16.4},{"series":"CrN/ZnO","scan":"rev","E":590,"J":16.6},{"series":"CrN/ZnO","scan":"rev","E":560,"J":16.3},{"series":"CrN/ZnO","scan":"rev","E":521,"J":15.8},{"series":"CrN/ZnO","scan":"rev","E":480,"J":15.0},{"series":"CrN/ZnO","scan":"rev","E":440,"J":14.0},{"series":"CrN/ZnO","scan":"rev","E":400,"J":13.3},{"series":"CrN/ZnO","scan":"rev","E":366,"J":12.8},{"series":"CrN/ZnO","scan":"rev","E":330,"J":11.3},{"series":"CrN/ZnO","scan":"rev","E":300,"J":10.0},{"series":"CrN/ZnO","scan":"rev","E":271,"J":8.8},{"series":"CrN/ZnO","scan":"rev","E":245,"J":7.3},{"series":"CrN/ZnO","scan":"rev","E":220,"J":6.3},{"series":"CrN/ZnO","scan":"rev","E":200,"J":5.6},{"series":"CrN/ZnO","scan":"rev","E":180,"J":4.7},{"series":"CrN/ZnO","scan":"rev","E":159,"J":3.85},{"series":"CrN/ZnO","scan":"rev","E":140,"J":3.1},{"series":"CrN/ZnO","scan":"rev","E":123,"J":2.4},{"series":"CrN/ZnO","scan":"rev","E":110,"J":1.85},{"series":"CrN/ZnO","scan":"rev","E":98,"J":1.35},{"series":"CrN/ZnO","scan":"rev","E":87,"J":1.05},{"series":"CrN/ZnO","scan":"rev","E":75,"J":0.86},{"series":"CrN/ZnO","scan":"rev","E":63,"J":0.64},{"series":"CrN/ZnO","scan":"rev","E":55,"J":0.55},{"series":"CrN/ZnO","scan":"rev","E":45,"J":0.44},{"series":"CrN/ZnO","scan":"rev","E":33,"J":0.34},{"series":"CrN/ZnO","scan":"rev","E":21,"J":0.27},{"series":"CrN/ZnO","scan":"rev","E":12,"J":0.21},{"series":"CrN/ZnO","scan":"rev","E":4,"J":0.16},{"series":"CrN/ZnO","scan":"rev","E":-4,"J":0.11},{"series":"CrN/ZnO","scan":"rev","E":-11,"J":0.076},{"series":"CrN/ZnO","scan":"rev","E":-17,"J":0.055},{"series":"CrN/ZnO","scan":"rev","E":-23,"J":0.04},{"series":"CrN/ZnO","scan":"rev","E":-29,"J":0.029},
{"series":"CrN/ZnO/CrN","scan":"fwd","E":9,"J":0.0104},{"series":"CrN/ZnO/CrN","scan":"fwd","E":11,"J":0.007},{"series":"CrN/ZnO/CrN","scan":"fwd","E":13,"J":0.0055},{"series":"CrN/ZnO/CrN","scan":"fwd","E":15,"J":0.0045},{"series":"CrN/ZnO/CrN","scan":"fwd","E":18,"J":0.0034},{"series":"CrN/ZnO/CrN","scan":"fwd","E":21,"J":0.0028},{"series":"CrN/ZnO/CrN","scan":"fwd","E":24,"J":0.0023},{"series":"CrN/ZnO/CrN","scan":"fwd","E":27,"J":0.002},{"series":"CrN/ZnO/CrN","scan":"fwd","E":30,"J":0.0017},{"series":"CrN/ZnO/CrN","scan":"fwd","E":33,"J":0.0016},{"series":"CrN/ZnO/CrN","scan":"fwd","E":36,"J":0.0014},{"series":"CrN/ZnO/CrN","scan":"fwd","E":39,"J":0.0013},{"series":"CrN/ZnO/CrN","scan":"fwd","E":42,"J":0.0012},{"series":"CrN/ZnO/CrN","scan":"fwd","E":45,"J":0.001},{"series":"CrN/ZnO/CrN","scan":"fwd","E":48,"J":0.0009},{"series":"CrN/ZnO/CrN","scan":"fwd","E":51,"J":0.00085},{"series":"CrN/ZnO/CrN","scan":"fwd","E":54,"J":0.0008},{"series":"CrN/ZnO/CrN","scan":"fwd","E":57,"J":0.00072},{"series":"CrN/ZnO/CrN","scan":"fwd","E":60,"J":0.00062},{"series":"CrN/ZnO/CrN","scan":"fwd","E":63,"J":0.00055},{"series":"CrN/ZnO/CrN","scan":"fwd","E":66,"J":0.00048},{"series":"CrN/ZnO/CrN","scan":"fwd","E":69,"J":0.00042},{"series":"CrN/ZnO/CrN","scan":"fwd","E":72,"J":0.00034},{"series":"CrN/ZnO/CrN","scan":"fwd","E":75,"J":0.00025},{"series":"CrN/ZnO/CrN","scan":"fwd","E":77,"J":0.0003},{"series":"CrN/ZnO/CrN","scan":"fwd","E":79,"J":0.00015},{"series":"CrN/ZnO/CrN","scan":"fwd","E":81,"J":0.00022},{"series":"CrN/ZnO/CrN","scan":"fwd","E":83,"J":0.00009},{"series":"CrN/ZnO/CrN","scan":"fwd","E":85,"J":0.00018},{"series":"CrN/ZnO/CrN","scan":"fwd","E":87,"J":0.00006},{"series":"CrN/ZnO/CrN","scan":"fwd","E":89,"J":0.00014},{"series":"CrN/ZnO/CrN","scan":"fwd","E":91,"J":0.00002},{"series":"CrN/ZnO/CrN","scan":"fwd","E":93,"J":0.0000015},{"series":"CrN/ZnO/CrN","scan":"fwd","E":95,"J":0.00005},{"series":"CrN/ZnO/CrN","scan":"fwd","E":97,"J":0.00015},{"series":"CrN/ZnO/CrN","scan":"fwd","E":99,"J":0.000025},{"series":"CrN/ZnO/CrN","scan":"fwd","E":101,"J":0.00011},{"series":"CrN/ZnO/CrN","scan":"fwd","E":103,"J":0.000012},{"series":"CrN/ZnO/CrN","scan":"fwd","E":105,"J":0.00009},{"series":"CrN/ZnO/CrN","scan":"fwd","E":107,"J":0.00003},{"series":"CrN/ZnO/CrN","scan":"fwd","E":109,"J":0.00014},{"series":"CrN/ZnO/CrN","scan":"fwd","E":111,"J":0.000015},{"series":"CrN/ZnO/CrN","scan":"fwd","E":112,"J":0.0000025},{"series":"CrN/ZnO/CrN","scan":"fwd","E":114,"J":0.00011},{"series":"CrN/ZnO/CrN","scan":"fwd","E":116,"J":0.00004},{"series":"CrN/ZnO/CrN","scan":"fwd","E":118,"J":0.00017},{"series":"CrN/ZnO/CrN","scan":"fwd","E":120,"J":0.00008},{"series":"CrN/ZnO/CrN","scan":"fwd","E":122,"J":0.0002},{"series":"CrN/ZnO/CrN","scan":"fwd","E":124,"J":0.00006},{"series":"CrN/ZnO/CrN","scan":"fwd","E":126,"J":0.00022},{"series":"CrN/ZnO/CrN","scan":"fwd","E":128,"J":0.00012},{"series":"CrN/ZnO/CrN","scan":"fwd","E":130,"J":0.00026},{"series":"CrN/ZnO/CrN","scan":"fwd","E":133,"J":0.00015},{"series":"CrN/ZnO/CrN","scan":"fwd","E":136,"J":0.0003},{"series":"CrN/ZnO/CrN","scan":"fwd","E":139,"J":0.00018},{"series":"CrN/ZnO/CrN","scan":"fwd","E":142,"J":0.00034},{"series":"CrN/ZnO/CrN","scan":"fwd","E":145,"J":0.00022},{"series":"CrN/ZnO/CrN","scan":"fwd","E":148,"J":0.00038},{"series":"CrN/ZnO/CrN","scan":"fwd","E":151,"J":0.00027},{"series":"CrN/ZnO/CrN","scan":"fwd","E":154,"J":0.00042},{"series":"CrN/ZnO/CrN","scan":"fwd","E":157,"J":0.00033},{"series":"CrN/ZnO/CrN","scan":"fwd","E":160,"J":0.00047},{"series":"CrN/ZnO/CrN","scan":"fwd","E":164,"J":0.00038},{"series":"CrN/ZnO/CrN","scan":"fwd","E":168,"J":0.00052},{"series":"CrN/ZnO/CrN","scan":"fwd","E":172,"J":0.00044},{"series":"CrN/ZnO/CrN","scan":"fwd","E":176,"J":0.0006},{"series":"CrN/ZnO/CrN","scan":"fwd","E":180,"J":0.0005},{"series":"CrN/ZnO/CrN","scan":"fwd","E":185,"J":0.00068},{"series":"CrN/ZnO/CrN","scan":"fwd","E":190,"J":0.00058},{"series":"CrN/ZnO/CrN","scan":"fwd","E":195,"J":0.00078},{"series":"CrN/ZnO/CrN","scan":"fwd","E":200,"J":0.0007},{"series":"CrN/ZnO/CrN","scan":"fwd","E":206,"J":0.00088},{"series":"CrN/ZnO/CrN","scan":"fwd","E":212,"J":0.0008},{"series":"CrN/ZnO/CrN","scan":"fwd","E":218,"J":0.00098},{"series":"CrN/ZnO/CrN","scan":"fwd","E":225,"J":0.0009},{"series":"CrN/ZnO/CrN","scan":"fwd","E":232,"J":0.0011},{"series":"CrN/ZnO/CrN","scan":"fwd","E":240,"J":0.00105},{"series":"CrN/ZnO/CrN","scan":"fwd","E":250,"J":0.0013},{"series":"CrN/ZnO/CrN","scan":"fwd","E":260,"J":0.0014},{"series":"CrN/ZnO/CrN","scan":"fwd","E":270,"J":0.0016},{"series":"CrN/ZnO/CrN","scan":"fwd","E":280,"J":0.0017},{"series":"CrN/ZnO/CrN","scan":"fwd","E":290,"J":0.0019},{"series":"CrN/ZnO/CrN","scan":"fwd","E":300,"J":0.0021},{"series":"CrN/ZnO/CrN","scan":"fwd","E":310,"J":0.0023},{"series":"CrN/ZnO/CrN","scan":"fwd","E":320,"J":0.0025},{"series":"CrN/ZnO/CrN","scan":"fwd","E":335,"J":0.0027},{"series":"CrN/ZnO/CrN","scan":"fwd","E":350,"J":0.003},{"series":"CrN/ZnO/CrN","scan":"fwd","E":370,"J":0.0033},{"series":"CrN/ZnO/CrN","scan":"fwd","E":390,"J":0.0037},{"series":"CrN/ZnO/CrN","scan":"fwd","E":410,"J":0.0041},{"series":"CrN/ZnO/CrN","scan":"fwd","E":430,"J":0.0045},{"series":"CrN/ZnO/CrN","scan":"fwd","E":450,"J":0.005},{"series":"CrN/ZnO/CrN","scan":"fwd","E":470,"J":0.0055},{"series":"CrN/ZnO/CrN","scan":"fwd","E":490,"J":0.006},{"series":"CrN/ZnO/CrN","scan":"fwd","E":510,"J":0.0066},{"series":"CrN/ZnO/CrN","scan":"fwd","E":530,"J":0.0073},{"series":"CrN/ZnO/CrN","scan":"fwd","E":550,"J":0.008},{"series":"CrN/ZnO/CrN","scan":"fwd","E":570,"J":0.0087},{"series":"CrN/ZnO/CrN","scan":"fwd","E":578,"J":0.009},{"series":"CrN/ZnO/CrN","scan":"fwd","E":580,"J":0.0065},{"series":"CrN/ZnO/CrN","scan":"fwd","E":582,"J":0.0092},{"series":"CrN/ZnO/CrN","scan":"fwd","E":600,"J":0.0104},{"series":"CrN/ZnO/CrN","scan":"fwd","E":616,"J":0.0117},{"series":"CrN/ZnO/CrN","scan":"fwd","E":635,"J":0.0132},{"series":"CrN/ZnO/CrN","scan":"fwd","E":655,"J":0.015},{"series":"CrN/ZnO/CrN","scan":"fwd","E":675,"J":0.0172},{"series":"CrN/ZnO/CrN","scan":"fwd","E":694,"J":0.0195},{"series":"CrN/ZnO/CrN","scan":"fwd","E":715,"J":0.024},{"series":"CrN/ZnO/CrN","scan":"fwd","E":735,"J":0.029},{"series":"CrN/ZnO/CrN","scan":"fwd","E":754,"J":0.035},{"series":"CrN/ZnO/CrN","scan":"fwd","E":770,"J":0.044},{"series":"CrN/ZnO/CrN","scan":"fwd","E":783,"J":0.054},{"series":"CrN/ZnO/CrN","scan":"fwd","E":795,"J":0.067},{"series":"CrN/ZnO/CrN","scan":"fwd","E":805,"J":0.085},{"series":"CrN/ZnO/CrN","scan":"fwd","E":815,"J":0.11},{"series":"CrN/ZnO/CrN","scan":"fwd","E":825,"J":0.15},{"series":"CrN/ZnO/CrN","scan":"fwd","E":835,"J":0.21},{"series":"CrN/ZnO/CrN","scan":"fwd","E":845,"J":0.28},{"series":"CrN/ZnO/CrN","scan":"fwd","E":855,"J":0.36},{"series":"CrN/ZnO/CrN","scan":"fwd","E":865,"J":0.45},{"series":"CrN/ZnO/CrN","scan":"fwd","E":879,"J":0.6},{"series":"CrN/ZnO/CrN","scan":"fwd","E":893,"J":0.78},{"series":"CrN/ZnO/CrN","scan":"fwd","E":910,"J":1.0},{"series":"CrN/ZnO/CrN","scan":"fwd","E":927,"J":1.3},{"series":"CrN/ZnO/CrN","scan":"fwd","E":945,"J":1.7},{"series":"CrN/ZnO/CrN","scan":"fwd","E":960,"J":2.1},{"series":"CrN/ZnO/CrN","scan":"fwd","E":975,"J":2.6},{"series":"CrN/ZnO/CrN","scan":"fwd","E":986,"J":3.1},
{"series":"CrN/ZnO/CrN","scan":"rev","E":986,"J":3.1},{"series":"CrN/ZnO/CrN","scan":"rev","E":975,"J":2.7},{"series":"CrN/ZnO/CrN","scan":"rev","E":962,"J":2.35},{"series":"CrN/ZnO/CrN","scan":"rev","E":950,"J":2.2},{"series":"CrN/ZnO/CrN","scan":"rev","E":940,"J":2.1},{"series":"CrN/ZnO/CrN","scan":"rev","E":927,"J":2.1},{"series":"CrN/ZnO/CrN","scan":"rev","E":915,"J":2.25},{"series":"CrN/ZnO/CrN","scan":"rev","E":900,"J":2.5},{"series":"CrN/ZnO/CrN","scan":"rev","E":879,"J":2.85},{"series":"CrN/ZnO/CrN","scan":"rev","E":860,"J":3.5},{"series":"CrN/ZnO/CrN","scan":"rev","E":840,"J":4.4},{"series":"CrN/ZnO/CrN","scan":"rev","E":820,"J":5.4},{"series":"CrN/ZnO/CrN","scan":"rev","E":800,"J":6.3},{"series":"CrN/ZnO/CrN","scan":"rev","E":780,"J":7.2},{"series":"CrN/ZnO/CrN","scan":"rev","E":759,"J":8.1},{"series":"CrN/ZnO/CrN","scan":"rev","E":735,"J":8.8},{"series":"CrN/ZnO/CrN","scan":"rev","E":710,"J":9.3},{"series":"CrN/ZnO/CrN","scan":"rev","E":680,"J":9.7},{"series":"CrN/ZnO/CrN","scan":"rev","E":650,"J":9.8},{"series":"CrN/ZnO/CrN","scan":"rev","E":620,"J":9.8},{"series":"CrN/ZnO/CrN","scan":"rev","E":590,"J":9.7},{"series":"CrN/ZnO/CrN","scan":"rev","E":563,"J":9.6},{"series":"CrN/ZnO/CrN","scan":"rev","E":521,"J":9.4},{"series":"CrN/ZnO/CrN","scan":"rev","E":480,"J":9.2},{"series":"CrN/ZnO/CrN","scan":"rev","E":440,"J":9.1},{"series":"CrN/ZnO/CrN","scan":"rev","E":400,"J":9.1},{"series":"CrN/ZnO/CrN","scan":"rev","E":355,"J":9.0},{"series":"CrN/ZnO/CrN","scan":"rev","E":320,"J":8.4},{"series":"CrN/ZnO/CrN","scan":"rev","E":290,"J":7.6},{"series":"CrN/ZnO/CrN","scan":"rev","E":260,"J":6.6},{"series":"CrN/ZnO/CrN","scan":"rev","E":230,"J":5.7},{"series":"CrN/ZnO/CrN","scan":"rev","E":205,"J":5.0},{"series":"CrN/ZnO/CrN","scan":"rev","E":180,"J":4.3},{"series":"CrN/ZnO/CrN","scan":"rev","E":152,"J":3.5},{"series":"CrN/ZnO/CrN","scan":"rev","E":130,"J":2.6},{"series":"CrN/ZnO/CrN","scan":"rev","E":110,"J":1.8},{"series":"CrN/ZnO/CrN","scan":"rev","E":98,"J":1.4},{"series":"CrN/ZnO/CrN","scan":"rev","E":88,"J":1.12},{"series":"CrN/ZnO/CrN","scan":"rev","E":79,"J":0.93},{"series":"CrN/ZnO/CrN","scan":"rev","E":70,"J":0.77},{"series":"CrN/ZnO/CrN","scan":"rev","E":60,"J":0.67},{"series":"CrN/ZnO/CrN","scan":"rev","E":52,"J":0.59},{"series":"CrN/ZnO/CrN","scan":"rev","E":43,"J":0.53},{"series":"CrN/ZnO/CrN","scan":"rev","E":34,"J":0.47},{"series":"CrN/ZnO/CrN","scan":"rev","E":26,"J":0.38},{"series":"CrN/ZnO/CrN","scan":"rev","E":18,"J":0.3},{"series":"CrN/ZnO/CrN","scan":"rev","E":9,"J":0.22}
  ]},
  "transform": [{"window": [{"op": "row_number", "as": "i"}]}],
  "layer": [
    {
      "transform": [{"filter": "datum.scan == 'fwd' || datum.series == 'CrN/ZnO'"}],
      "mark": {"type": "line", "strokeWidth": 1.8, "clip": true},
      "encoding": {
        "x": {"field": "E", "type": "quantitative",
          "scale": {"domain": [-100, 1000], "nice": false, "zero": false},
          "axis": {
            "values": [-100, 0, 100, 200, 300, 400, 500, 600, 700, 800, 900, 1000],
            "labelExpr": "datum.value % 200 == 0 ? format(datum.value, 'd') : ''",
            "tickSize": {"condition": {"test": "datum.value % 200 == 0", "value": 9}, "value": 4},
            "labelOverlap": false, "labelFlush": false,
            "labelFont": "Liberation Sans", "labelFontWeight": "bold", "labelFontSize": 25, "labelPadding": 6,
            "title": "E (mV/SCE)", "titleFont": "Liberation Serif", "titleFontWeight": "bold", "titleFontSize": 27, "titlePadding": 10
          }
        },
        "y": {"field": "J", "type": "quantitative",
          "scale": {"type": "log", "domain": [0.000001, 100], "nice": false},
          "axis": {
            "values": [0.000001, 0.000002, 0.000003, 0.000004, 0.000005, 0.000006, 0.000007, 0.000008, 0.000009,
                       0.00001, 0.00002, 0.00003, 0.00004, 0.00005, 0.00006, 0.00007, 0.00008, 0.00009,
                       0.0001, 0.0002, 0.0003, 0.0004, 0.0005, 0.0006, 0.0007, 0.0008, 0.0009,
                       0.001, 0.002, 0.003, 0.004, 0.005, 0.006, 0.007, 0.008, 0.009,
                       0.01, 0.02, 0.03, 0.04, 0.05, 0.06, 0.07, 0.08, 0.09,
                       0.1, 0.2, 0.3, 0.4, 0.5, 0.6, 0.7, 0.8, 0.9,
                       1, 2, 3, 4, 5, 6, 7, 8, 9,
                       10, 20, 30, 40, 50, 60, 70, 80, 90, 100],
            "labelExpr": "abs(log(datum.value)/LN10 - round(log(datum.value)/LN10)) > 0.001 ? '' : (datum.value >= 1 ? format(datum.value, 'd') : (datum.value >= 0.001 ? replace(toString(datum.value), '.', ',') : '1E' + round(log(datum.value)/LN10)))",
            "tickSize": {"condition": {"test": "abs(log(datum.value)/LN10 - round(log(datum.value)/LN10)) < 0.001", "value": 9}, "value": 5},
            "labelOverlap": false,
            "labelFont": "Liberation Sans", "labelFontWeight": "bold", "labelFontSize": 24, "labelPadding": 8,
            "title": "log |J| (mA/cm²)", "titleFont": "Liberation Serif", "titleFontWeight": "bold", "titleFontSize": 27, "titlePadding": 22, "titleY": 232
          }
        },
        "color": {"field": "series", "type": "nominal",
          "scale": {"domain": ["CrN", "ZnO/CrN", "CrN/ZnO", "CrN/ZnO/CrN"], "range": ["#000000", "#0000ff", "#ff0000", "#008000"]},
          "legend": {
            "orient": "none", "legendX": 359, "legendY": 288, "title": null,
            "symbolType": "stroke", "symbolSize": 3481, "symbolStrokeWidth": 2,
            "labelFont": "Liberation Sans", "labelFontWeight": "bold", "labelFontSize": 25, "labelColor": "black", "labelLimit": 400,
            "labelOffset": 7, "padding": 8, "rowPadding": 8, "clipHeight": 24,
            "strokeColor": "black",
            "labelExpr": "'\u200B' + replace(datum.label, 'ZnO', '\u2003\u2003')",
            "encode": {"legend": {"update": {"strokeWidth": {"value": 1.5}}}}
          }
        },
        "detail": {"field": "scan"},
        "order": {"field": "i", "type": "quantitative"}
      }
    },
    {
      "transform": [{"filter": "datum.scan == 'rev' && datum.series != 'CrN/ZnO'"}],
      "mark": {"type": "line", "strokeWidth": 2.2, "strokeDash": [2.5, 4.5], "clip": true},
      "encoding": {
        "x": {"field": "E", "type": "quantitative"},
        "y": {"field": "J", "type": "quantitative"},
        "color": {"field": "series", "type": "nominal",
          "scale": {"domain": ["CrN", "ZnO/CrN", "CrN/ZnO", "CrN/ZnO/CrN"], "range": ["#000000", "#0000ff", "#ff0000", "#008000"]},
          "legend": null},
        "detail": {"field": "scan"},
        "order": {"field": "i", "type": "quantitative"}
      }
    },
    {
      "transform": [{"filter": "datum.scan == 'fwd'"}],
      "mark": {"type": "point", "opacity": 0},
      "encoding": {
        "x": {"field": "E", "type": "quantitative"},
        "y": {"field": "J", "type": "quantitative"},
        "color": {"field": "series", "type": "nominal",
          "scale": {"domain": ["CrN", "ZnO/CrN", "CrN/ZnO", "CrN/ZnO/CrN"], "range": ["#000000", "#0000ff", "#ff0000", "#008000"]},
          "legend": {
            "orient": "none", "legendX": 359, "legendY": 288, "title": null,
            "symbolType": "stroke", "symbolSize": 3481, "symbolStrokeWidth": 2, "symbolOpacity": 0,
            "labelFont": "Liberation Sans", "labelFontWeight": "bold", "labelFontSize": 25, "labelColor": "#8000ff", "labelLimit": 400,
            "labelOffset": 7, "padding": 8, "rowPadding": 8, "clipHeight": 24,
            "labelExpr": "datum.label == 'CrN' ? '\u200B' : (indexof(datum.label, 'ZnO') == 0 ? '\u200BZnO' : '\u200B\u2003\u2007\u2007ZnO')"
          }
        }
      }
    }
  ],
  "resolve": {"scale": {"color": "independent"}}
}
